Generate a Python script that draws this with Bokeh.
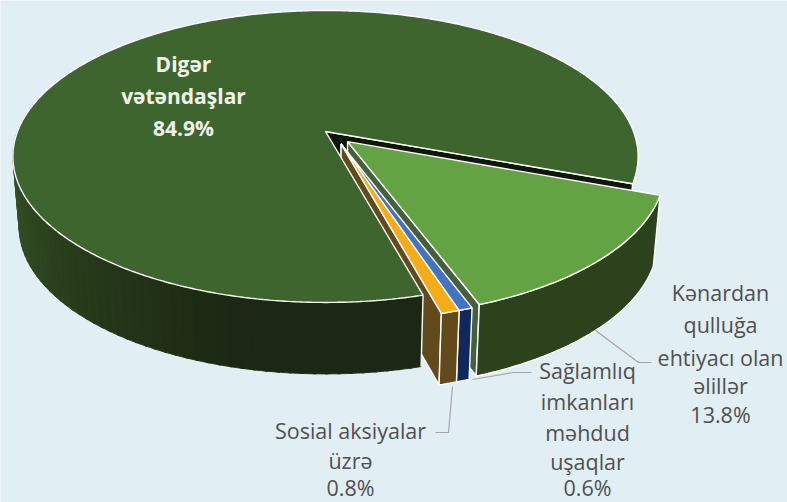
from math import cos, sin, radians
from bokeh.plotting import figure
from bokeh.embed import file_html
from bokeh.resources import INLINE
from bokeh.core.properties import value

# ---- data ----
categories = ["Digər vətəndaşlar", "Kənardan qulluğa ehtiyacı olan əlillər",
              "Sağlamlıq imkanları məhdud uşaqlar", "Sosial aksiyalar üzrə"]
shares = [84.9, 13.8, 0.6, 0.8]
top_colors = ["#3f652e", "#64a343", "#4472c4", "#f5ac18"]
side_colors = ["#1c2813", "#2b421c", "#10295c", "#634a1c"]
cut_colors = ["#0f170b", "#45603a", "#10295c", "#634a1c"]

BG = "#e1eef4"
CX, CY, RX, RY, K = 325.0, 131.0, 308.0, 141.7, 0.171
DEPTH, SHRINK = 70.0, 0.98
EXPLODE = 0.10
START = -20.3   # angle where the first slice begins, running counter-clockwise
PULL_DIR = {1: -45.0, 2: -60.0, 3: -60.0}   # direction each detached slice is pulled out


def proj(X, Y, low=False):
    w = 1 + K * Y
    s = SHRINK if low else 1.0
    drop = DEPTH * (1 - 0.07 * Y) if low else 0.0
    return CX + RX * X / w * s, CY - RY * Y / w * s + drop


def pt(ang, r=1.0, off=(0, 0), low=False):
    a = radians(ang)
    return proj(off[0] + r * cos(a), off[1] + r * sin(a), low)


def arc(a0, a1, off=(0, 0), low=False, step=0.5):
    n = max(2, int(abs(a1 - a0) / step) + 1)
    return [pt(a0 + (a1 - a0) * i / (n - 1), 1.0, off, low) for i in range(n)]


def mix(c0, c1, t):
    a = [int(c0[i:i + 2], 16) for i in (1, 3, 5)]
    b = [int(c1[i:i + 2], 16) for i in (1, 3, 5)]
    return "#%02x%02x%02x" % tuple(round(x + (y - x) * t) for x, y in zip(a, b))


p = figure(width=787, height=502, x_range=(0, 787), y_range=(502, 0),
           toolbar_location=None, output_backend="svg", min_border=0,
           background_fill_color=BG, border_fill_color=BG, outline_line_color=None)
p.axis.visible = False
p.grid.visible = False


def poly(points, fill, line="white", lw=1.4):
    p.patch([q[0] for q in points], [q[1] for q in points], fill_color=fill,
            line_color=line if line else fill, line_width=lw)


a0, a1 = START, START + shares[0] * 3.6

# the detached slices' geometry, going clockwise from START
geom = {}
c = START
for idx in (1, 2, 3):
    hi, lo = c, c - shares[idx] * 3.6
    c = lo
    d = radians(PULL_DIR[idx])
    geom[idx] = (hi, lo, (EXPLODE * cos(d), EXPLODE * sin(d)))

# faces deepest inside the wedge first
poly([pt(a0, 0), pt(a0), pt(a0, low=True), pt(a0, 0, low=True)], cut_colors[0])
for idx in (1, 2, 3):
    hi, lo, off = geom[idx]
    poly([pt(lo, 0, off), pt(lo, 1, off), pt(lo, 1, off, True), pt(lo, 0, off, True)], cut_colors[idx])

# main slice outer wall, then top
wall_from, wall_to = 170.0, a1
n_q = 60
for i in range(n_q):
    u0 = wall_from + (wall_to - wall_from) * i / n_q
    u1 = min(wall_to, wall_from + (wall_to - wall_from) * (i + 1) / n_q + 0.5)
    t = i / (n_q - 1)
    col = mix("#3d5f2b", side_colors[0], min(1.0, t * 1.35))
    poly(arc(u0, u1) + arc(u1, u0, low=True), col, line=None, lw=0.9)
end = [pt(a1), pt(a1, low=True)]
p.line([q[0] for q in end], [q[1] for q in end], line_color="white", line_width=1.4)
poly([pt(a0, 0)] + arc(a0, a1) + [pt(a0, 0)], top_colors[0])

# detached slices, back to front
for idx in (1, 2, 3):
    hi, lo, off = geom[idx]
    poly(arc(hi, lo, off) + arc(lo, hi, off, True), side_colors[idx])
    poly([pt(hi, 0, off)] + arc(hi, lo, off) + [pt(hi, 0, off)], top_colors[idx])

# leader lines
leaders = [([595, 638, 651], [330, 362, 362]),
           ([472, 513, 531], [379, 372, 372]),
           ([452, 448, 435], [386, 432, 432])]
for lx, ly in leaders:
    p.line(lx, ly, line_color="#a6a6a6", line_width=1.2)

# labels
FONT = value("Open Sans")
inner_lines = ["Digər", "vətəndaşlar", "84.9%"]
inner_y = [63, 95, 127]
right_lines = ["Kənardan", "qulluğa", "ehtiyacı olan", "əlillər", "13.8%"]
right_y = [292, 324, 357, 385, 414]
mid_lines = ["Sağlamlıq", "imkanları", "məhdud", "uşaqlar", "0.6%"]
mid_y = [370, 401, 432, 461, 487]
left_lines = ["Sosial aksiyalar", "üzrə", "0.8%"]
left_y = [430, 460, 487]

p.text([183] * 3, inner_y, text=inner_lines, text_color="#eef3ea", text_font=FONT,
       text_font_style="bold", text_font_size="21px", text_align="center", text_baseline="middle")
for xs, ys, ls in ((720, right_y, right_lines), (587, mid_y, mid_lines), (350, left_y, left_lines)):
    p.text([xs] * len(ls), ys, text=ls, text_color="#505050", text_font=FONT,
           text_font_size="21.5px", text_align="center", text_baseline="middle")

open("out.html", "w").write(file_html(p, INLINE))
